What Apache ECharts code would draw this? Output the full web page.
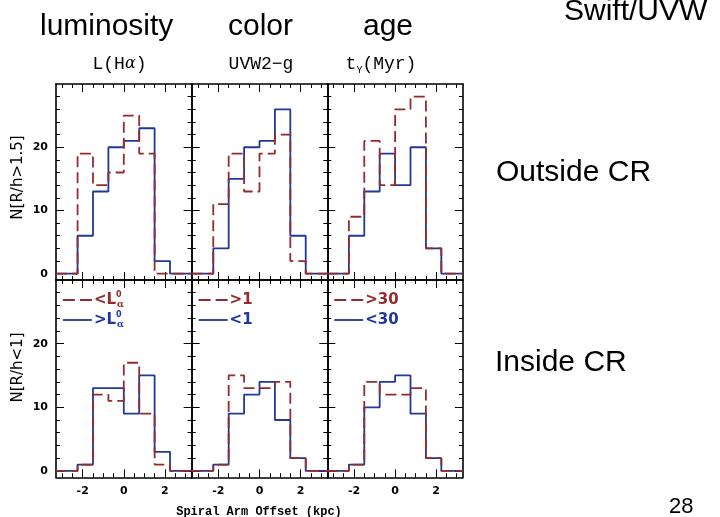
<!DOCTYPE html>
<html>
<head>
<meta charset="utf-8">
<script src="https://cdn.jsdelivr.net/npm/echarts@6/dist/echarts.min.js"></script>
<style>
  html, body { margin: 0; padding: 0; background: #fff; }
  #chart { width: 720px; height: 517px; }
</style>
</head>
<body>
<div id="chart"></div>
<script>
// Histogram bin edges along the spiral-arm offset (kpc); outer edges are the panel limits
const binEdges = [-3.3, -2.25, -1.5, -0.75, 0, 0.75, 1.5, 2.25, 3.3];

// Counts per bin, R/h > 1.5 (outside corotation)
const lumOutBright = [0, 6, 13, 20, 21, 23, 2, 0];
const lumOutFaint  = [0, 19, 14, 16, 25, 19, 0, 0];
const colOutBlue   = [0, 4, 15, 20, 21, 26, 6, 0];
const colOutRed    = [0, 11, 19, 13, 19, 22, 2, 0];
const ageOutYoung  = [0, 6, 13, 19, 14, 20, 4, 0];
const ageOutOld    = [0, 9, 21, 14, 26, 28, 4, 0];

// Counts per bin, R/h < 1 (inside corotation)
const lumInBright = [0, 1, 13, 13, 9, 15, 3, 0];
const lumInFaint  = [0, 1, 12, 11, 17, 9, 1, 0];
const colInBlue   = [0, 1, 9, 12, 14, 8, 2, 0];
const colInRed    = [0, 1, 15, 13, 13, 14, 2, 0];
const ageInYoung  = [0, 1, 10, 14, 15, 9, 2, 0];
const ageInOld    = [0, 1, 14, 12, 12, 13, 2, 0];

// Axis ticks and labels
const xMinorTicks = [-3, -2.5, -2, -1.5, -1, -0.5, 0, 0.5, 1, 1.5, 2, 2.5, 3];
const xMajorTicks = [-2, 0, 2];
const yMinorTicks = [0, 2, 4, 6, 8, 10, 12, 14, 16, 18, 20, 22, 24, 26, 28];
const yMajorTicks = [0, 10, 20];

const columnTitles = ['luminosity', 'color', 'age'];
const rowNames = ['N[R/h>1.5]', 'N[R/h<1]'];
const legendNames = [['<L', '>L'], ['>1', '<1'], ['>30', '<30']];

const RED = '#962b2b';
const BLUE = '#1f38a0';
const DASH = [11, 5];

// panel layout: [blue, red] per panel, row-major
const panels = [
  [lumOutBright, lumOutFaint], [colOutBlue, colOutRed], [ageOutYoung, ageOutOld],
  [lumInBright, lumInFaint],   [colInBlue, colInRed],   [ageInYoung, ageInOld]
];
const panelLeft = [56, 191.7, 327.3];
const panelWidth = 135.6;
const panelTop = [84, 280];
const panelHeight = [196, 197.3];

function stepPoints(counts) {
  return binEdges.map((e, i) => [e, counts[Math.min(i, counts.length - 1)]]);
}

const grids = [], xAxes = [], yAxes = [], series = [], legends = [];

panels.forEach((pair, g) => {
  const r = Math.floor(g / 3), c = g % 3;
  grids.push({ left: panelLeft[c], top: panelTop[r], width: panelWidth, height: panelHeight[r] });

  const lineStyle = { color: '#000', width: 1.6 };
  const xBase = { type: 'value', gridIndex: g, min: -3.3, max: 3.3, splitLine: { show: false } };
  const yBase = { type: 'value', gridIndex: g, min: -1, max: 30, splitLine: { show: false } };

  ['bottom', 'top'].forEach(pos => {
    xAxes.push(Object.assign({}, xBase, {
      position: pos,
      axisLine: { show: true, onZero: false, lineStyle },
      axisTick: { show: true, inside: true, length: 4, customValues: xMinorTicks, lineStyle: { color: '#000', width: 1 } },
      axisLabel: {
        show: pos === 'bottom' && r === 1, customValues: xMajorTicks, margin: 8,
        color: '#000', fontFamily: 'DejaVu Sans', fontWeight: 'bold', fontSize: 11
      }
    }));
    xAxes.push(Object.assign({}, xBase, {
      position: pos,
      axisLine: { show: false, onZero: false },
      axisTick: { show: true, inside: true, length: 8, customValues: xMajorTicks, lineStyle: { color: '#000', width: 1 } },
      axisLabel: { show: false }
    }));
  });
  ['left', 'right'].forEach(pos => {
    yAxes.push(Object.assign({}, yBase, {
      position: pos,
      axisLine: { show: true, onZero: false, lineStyle },
      axisTick: { show: true, inside: true, length: 4, customValues: yMinorTicks, lineStyle: { color: '#000', width: 1 } },
      axisLabel: {
        show: pos === 'left' && c === 0, customValues: yMajorTicks, margin: 8,
        color: '#000', fontFamily: 'DejaVu Sans', fontWeight: 'bold', fontSize: 11
      }
    }));
    yAxes.push(Object.assign({}, yBase, {
      position: pos,
      axisLine: { show: false, onZero: false },
      axisTick: { show: true, inside: true, length: 8, customValues: yMajorTicks, lineStyle: { color: '#000', width: 1 } },
      axisLabel: { show: false }
    }));
  });

  const names = legendNames[c];
  // blue (solid) first, red (dashed) drawn over it
  series.push({
    type: 'line', name: r === 1 ? names[1] : 'b' + g, xAxisIndex: g * 4, yAxisIndex: g * 4,
    data: stepPoints(pair[0]), step: 'end', symbol: 'none', animation: false,
    lineStyle: { color: BLUE, width: 1.8, type: 'solid' }, itemStyle: { color: BLUE }
  });
  series.push({
    type: 'line', name: r === 1 ? names[0] : 'r' + g, xAxisIndex: g * 4, yAxisIndex: g * 4,
    data: stepPoints(pair[1]), step: 'end', symbol: 'none', animation: false,
    lineStyle: { color: RED, width: 1.8, type: DASH }, itemStyle: { color: RED }
  });

  if (r === 1) {
    const hidden = { color: 'transparent', borderColor: 'transparent', borderWidth: 0, opacity: 0 };
    legends.push({
      left: panelLeft[c] + 6, top: 291, orient: 'vertical', padding: 0,
      itemWidth: 29, itemHeight: 14, itemGap: 2, selectedMode: false,
      itemStyle: hidden,
      data: [
        { name: names[0], textStyle: { color: RED }, itemStyle: hidden, lineStyle: { color: RED, width: 1.8, type: [12, 5] } },
        { name: names[1], textStyle: { color: BLUE }, itemStyle: hidden, lineStyle: { color: BLUE, width: 1.8, type: 'solid' } }
      ],
      formatter: name => name.endsWith('L') ? name + '{sup|0}{sub|α}' : name,
      textStyle: {
        fontFamily: 'DejaVu Sans', fontWeight: 'bold', fontSize: 15, lineHeight: 18, padding: [0, 0, 0, -3],
        rich: {
          sup: { fontFamily: 'DejaVu Sans', fontWeight: 'bold', fontSize: 8, verticalAlign: 'top', width: 1, lineHeight: 18 },
          sub: { fontFamily: 'DejaVu Serif', fontWeight: 'bold', fontSize: 9, verticalAlign: 'bottom', lineHeight: 18 }
        }
      }
    });
  }
});

const sansBig = { fontFamily: 'Liberation Sans', fontSize: 30, fill: '#000' };
function textEl(text, x, y, extra) {
  return { type: 'text', silent: true, style: Object.assign({ text, x, y, textVerticalAlign: 'middle' }, sansBig, extra || {}) };
}

const graphics = [
  textEl(columnTitles[0], 40, 26.7),
  textEl(columnTitles[1], 228, 26.7),
  textEl(columnTitles[2], 363, 26.7),
  textEl('Swift/UVW', 564, 11.7),
  textEl('Outside CR', 496, 173),
  textEl('Inside CR', 495, 362.5),
  textEl('28', 669, 506.5, { fontSize: 22 }),
  // column quantities
  {
    type: 'text', silent: true,
    style: {
      text: 'L(H{i|α})', x: 119.5, y: 64, textAlign: 'center', textVerticalAlign: 'middle',
      fontFamily: 'Liberation Mono', fontSize: 18, fill: '#000',
      rich: { i: { fontFamily: 'DejaVu Serif', fontStyle: 'italic', fontSize: 16 } }
    }
  },
  {
    type: 'text', silent: true,
    style: {
      text: 'UVW2−g', x: 261, y: 64, textAlign: 'center', textVerticalAlign: 'middle',
      fontFamily: 'Liberation Mono', fontSize: 18, fill: '#000'
    }
  },
  {
    type: 'text', silent: true,
    style: {
      text: 't{sub|Y}(Myr)', x: 381, y: 64, textAlign: 'center', textVerticalAlign: 'middle',
      fontFamily: 'Liberation Mono', fontSize: 18, fill: '#000',
      rich: { sub: { fontFamily: 'Liberation Mono', fontSize: 10, verticalAlign: 'bottom', lineHeight: 22 } }
    }
  },
  // row axis names
  {
    type: 'text', silent: true, x: 18.5, y: 177.5, rotation: Math.PI / 2,
    style: { text: rowNames[0], textAlign: 'center', textVerticalAlign: 'middle', fontFamily: 'DejaVu Sans', fontSize: 15, fill: '#000' }
  },
  {
    type: 'text', silent: true, x: 18.5, y: 367.5, rotation: Math.PI / 2,
    style: { text: rowNames[1], textAlign: 'center', textVerticalAlign: 'middle', fontFamily: 'DejaVu Sans', fontSize: 15, fill: '#000' }
  },
  {
    type: 'text', silent: true,
    style: {
      text: 'Spiral Arm Offset (kpc)', x: 259, y: 511.5, textAlign: 'center', textVerticalAlign: 'middle',
      fontFamily: 'Liberation Mono', fontWeight: 'bold', fontSize: 12, fill: '#000'
    }
  }
];

const chart = echarts.init(document.getElementById('chart'), null, { renderer: 'canvas' });
chart.setOption({
  backgroundColor: '#fff',
  animation: false,
  grid: grids,
  xAxis: xAxes,
  yAxis: yAxes,
  legend: legends,
  series: series,
  graphic: graphics
});
</script>
</body>
</html>
